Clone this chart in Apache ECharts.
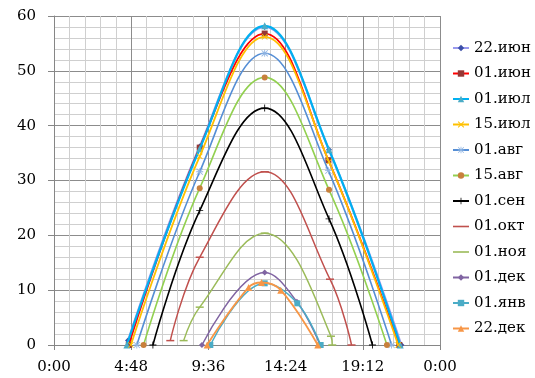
<!DOCTYPE html>
<html>
<head>
<meta charset="utf-8">
<script src="https://cdn.jsdelivr.net/npm/echarts@6/dist/echarts.min.js"></script>
<style>
  html, body { margin: 0; padding: 0; background: #fff; }
  #chart { width: 535px; height: 378px; }
</style>
</head>
<body>
<div id="chart"></div>
<script>
// time of day in hours
const jun22 = [[4.6, 0.8], [9.06, 36.2], [13.1, 58.0], [17.1, 35.6], [21.6, 0]]
const jun01 = [[4.65, 0], [9.06, 36.0], [13.1, 56.8], [17.06, 33.7], [21.47, 0]]
const jul01 = [[4.53, 0], [9.06, 35.8], [13.1, 58.2], [17.1, 35.6], [21.53, 0]]
const jul15 = [[4.78, 0], [9.06, 34.4], [13.1, 56.2], [17.1, 33.4], [21.4, 0]]
const aug01 = [[5.15, 0], [9.06, 31.6], [13.1, 53.2], [17.06, 31.8], [20.99, 0]]
const aug15 = [[5.57, 0], [9.06, 28.6], [13.1, 48.8], [17.1, 28.3], [20.7, 0]]
const sep01 = [[6.15, 0], [9.06, 24.5], [13.1, 43.2], [17.1, 23.0], [19.8, 0]]
const oct01 = [[7.23, 0.8], [9.06, 16.0], [13.1, 31.6], [17.16, 12.0], [18.5, 0]]
const nov01 = [[8.06, 0.8], [9.06, 6.9], [13.1, 20.4], [17.22, 1.6], [17.3, 0]]
const dec01 = [[9.2, 0], [13.1, 13.2], [15.1, 7.9], [16.55, 0]]
const jan01 = [[9.72, 0], [13.1, 11.25], [15.13, 7.6], [16.58, 0]]
const dec22 = [[9.52, 0], [12.1, 10.5], [12.9, 11.4], [14.1, 10.0], [16.4, 0]]

const seriesNames = ['22.июн', '01.июн', '01.июл', '15.июл', '01.авг', '15.авг',
  '01.сен', '01.окт', '01.ноя', '01.дек', '01.янв', '22.дек']
const seriesData = [jun22, jun01, jul01, jul15, aug01, aug15, sep01, oct01, nov01, dec01, jan01, dec22]

const xTicks = [0, 4.8, 9.6, 14.4, 19.2, 24]
const yTicks = [0, 10, 20, 30, 40, 50, 60]

const X_PATH = 'path://M1,0L5,4L9,0L10,1L6,5L10,9L9,10L5,6L1,10L0,9L4,5L0,1Z'
const PLUS_PATH = 'path://M4.4,0H5.6V4.4H10V5.6H5.6V10H4.4V5.6H0V4.4H4.4Z'
const STAR_PATH = 'path://M4.4,0H5.6V10H4.4Z M0,4.4H10V5.6H0Z M1,0.2L9.8,9L9,9.8L0.2,1Z M9,0.2L9.8,1L1,9.8L0.2,9Z'
const DASH_ICON = 'path://M0,0H16V1.6H0Z'

const styles = [
  { line: '#9999ee', mark: '#3b4fa8', symbol: 'diamond', size: 6, width: 2 },
  { line: '#ff0000', mark: '#953735', symbol: 'rect', size: 6, width: 1.8 },
  { line: '#00b0f0', mark: '#4bacc6', symbol: 'triangle', size: 7, width: 2.2 },
  { line: '#ffc000', mark: '#ffc000', symbol: X_PATH, size: 6, width: 1.8 },
  { line: '#558ed5', mark: '#8db3e2', symbol: STAR_PATH, size: 7, width: 1.6 },
  { line: '#92d050', mark: '#c8803c', symbol: 'circle', size: 6, width: 1.6 },
  { line: '#000000', mark: '#000000', symbol: PLUS_PATH, size: 7, width: 1.6 },
  { line: '#c0504d', mark: '#c0504d', symbol: 'rect', size: [8, 1.5], width: 1.5, icon: DASH_ICON },
  { line: '#9bbb59', mark: '#9bbb59', symbol: 'rect', size: [8, 1.5], width: 1.5, icon: DASH_ICON },
  { line: '#8064a2', mark: '#8064a2', symbol: 'diamond', size: 6, width: 1.5 },
  { line: '#4bacc6', mark: '#4bacc6', symbol: 'rect', size: 6, width: 1.5 },
  { line: '#f79646', mark: '#f79646', symbol: 'triangle', size: 7, width: 1.8 }
]

const fmtTime = (v) => {
  const mins = Math.round(v * 60) % 1440
  const m = mins % 60
  return Math.floor(mins / 60) + ':' + (m < 10 ? '0' : '') + m
}

const serif = '"DejaVu Serif", "Liberation Serif", serif'

const chart = echarts.init(document.getElementById('chart'))

chart.setOption({
  animation: false,
  backgroundColor: '#fff',
  grid: { left: 54, right: 95, top: 16, bottom: 33 },
  legend: {
    orient: 'vertical',
    left: 447,
    top: 35,
    itemWidth: 16,
    itemHeight: 8,
    itemGap: 9.5,
    data: seriesNames.map((name, i) => (styles[i].icon ? { name, icon: styles[i].icon } : { name })),
    textStyle: { fontFamily: serif, fontSize: 15, color: '#000', lineHeight: 16 }
  },
  xAxis: {
    type: 'value',
    min: xTicks[0],
    max: xTicks[xTicks.length - 1],
    interval: xTicks[1] - xTicks[0],
    axisLine: { show: true, lineStyle: { color: '#868686', width: 1 } },
    axisTick: { show: true, length: 5, lineStyle: { color: '#868686' } },
    axisLabel: { formatter: fmtTime, fontFamily: serif, fontSize: 15, color: '#000', margin: 15 },
    splitLine: { show: true, lineStyle: { color: '#8c8c8c', width: 1 } },
    minorTick: { show: false, splitNumber: 5 },
    minorSplitLine: { show: true, lineStyle: { color: '#cfcfcf', width: 1 } }
  },
  yAxis: {
    type: 'value',
    min: yTicks[0],
    max: yTicks[yTicks.length - 1],
    interval: yTicks[1] - yTicks[0],
    axisLine: { show: true, lineStyle: { color: '#868686', width: 1 } },
    axisTick: { show: true, length: 6, lineStyle: { color: '#868686' } },
    axisLabel: { fontFamily: serif, fontSize: 15, color: '#000', margin: 18 },
    splitLine: { show: true, lineStyle: { color: '#8c8c8c', width: 1 } },
    minorTick: { show: false, splitNumber: 5 },
    minorSplitLine: { show: true, lineStyle: { color: '#cfcfcf', width: 1 } }
  },
  series: seriesNames.map((name, i) => ({
    name,
    type: 'line',
    data: seriesData[i],
    smooth: 0.4,
    symbol: styles[i].symbol,
    symbolSize: styles[i].size,
    showSymbol: true,
    lineStyle: { color: styles[i].line, width: styles[i].width },
    itemStyle: { color: styles[i].mark, borderWidth: 0 },
    z: 2 + i
  }))
})
</script>
</body>
</html>
